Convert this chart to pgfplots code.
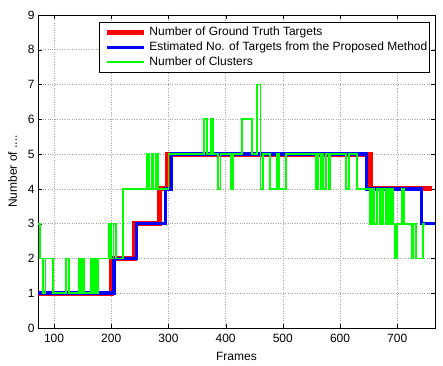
\documentclass[border=0pt]{standalone}
\usepackage{fontspec}
\setmainfont{Liberation Sans}
\usepackage{pgfplots}
\pgfplotsset{compat=1.18}
\begin{document}
\begin{tikzpicture}
\begin{axis}[
  scale only axis, width=397pt, height=313pt,
  xmin=72, xmax=766, ymin=0, ymax=9,
  xtick={100,200,...,700}, ytick={0,1,...,9},
  grid=major, grid style={dotted, gray!70, line width=0.6pt},
  tick align=inside, major tick length=4pt,
  tick style={black},
  font=\fontsize{12}{14}\selectfont,
  /pgf/number format/assume math mode=true,
  xticklabel style={yshift=-3pt},
  xlabel={Frames}, ylabel={Number of ....},
  xlabel style={yshift=-2pt},
  ylabel style={yshift=4pt},
  legend style={at={(rel axis cs:0.985,0.978)}, anchor=north east, draw=black,
    font=\fontsize{12}{14}\selectfont, inner xsep=0pt, inner ysep=3pt,
    nodes={inner sep=1.5pt, text height=8.5pt, text depth=3pt}, row sep=0.5pt},
  legend cell align=left,
  legend image code/.code={\path (0pt,0pt) (44pt,0pt); \draw[#1] (6pt,0pt) -- (43pt,0pt);},
]
\addplot[const plot, red, line width=5pt] coordinates {
(72,1) (200,2) (241,3) (285,4) (299,5) (654,4) (760,4)};
\addlegendentry{Number of Ground Truth Targets}
\addplot[const plot, blue, line width=3.5pt] coordinates {
(72,1) (205,2) (244,3) (295,4) (305,5) (646,4) (742,3) (766,3)};
\addlegendentry{Estimated No. of Targets from the Proposed Method}
\addplot[const plot, green, line width=1.8pt] coordinates {
(72,3) (75.5,2) (81,1) (85,2) (98.5,1) (121,2) (125.5,1) (144,2) (147,1)
(149,2) (153,1) (164,2) (166,1) (168,2) (170.5,1) (173,2) (175,1) (177,2)
(196.5,3) (199,2) (204,3) (208,2) (221,4) (262,5) (266,4) (271,5) (274,4)
(278,5) (282,4) (300,5) (362,6) (367,5) (374.5,6) (378.5,5) (387,4) (391,5)
(409,4) (413,5) (428,6) (446.5,5) (455.5,7) (461,4) (466,5) (477.5,4)
(490,5) (493,4) (505.5,5) (558,4) (561,5) (566,4) (569,5) (571,4) (575,5)
(580,4) (583,5) (611,4) (615,5) (629,4) (652.5,3) (655.5,4) (660,3) (664,4)
(669,3) (672,4) (673.5,3) (676,4) (680.5,3) (684.5,4) (687.5,3) (690.5,4)
(692,3) (696,2) (700,3) (708.5,4) (712,3) (725,2) (728,3) (733,2) (745.5,3)
(748,3)};
\addlegendentry{Number of Clusters}
\end{axis}
\path (current axis.south west) ++(-38pt,-38pt) coordinate (bl);
\path (current axis.north east) ++(8pt,15pt) coordinate (tr);
\path (bl) rectangle (tr);
\end{tikzpicture}
\end{document}
